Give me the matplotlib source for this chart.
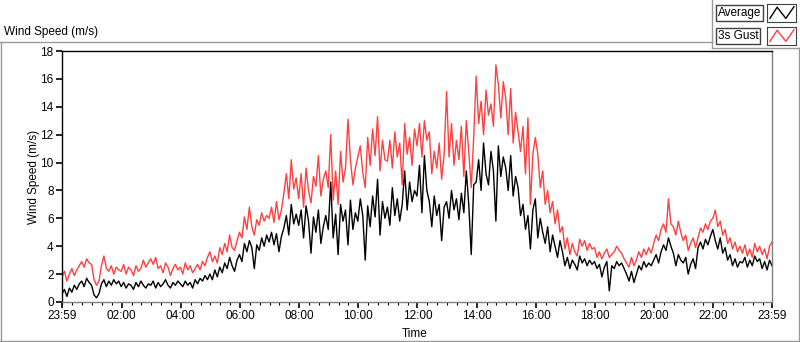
import matplotlib.pyplot as plt
from matplotlib.lines import Line2D
import numpy as np

# -------- Data (5-minute samples, 23:59 -> 23:59)
avg_speed = [
    0.6, 0.9, 0.4, 1.0, 0.7, 1.2, 0.9, 1.3, 1.5, 1.1, 1.7, 1.4,
    1.2, 0.5, 0.3, 0.6, 1.3, 1.6, 1.1, 1.5, 1.2, 1.6, 1.3, 1.5,
    1.1, 1.4, 1.0, 1.3, 1.2, 0.9, 1.4, 1.1, 1.5, 1.2, 1.0, 1.3,
    1.2, 1.5, 1.0, 1.4, 1.1, 1.3, 1.6, 1.2, 1.0, 1.4, 1.2, 1.5,
    1.3, 1.1, 1.5, 1.2, 1.4, 1.0, 1.6, 1.3, 1.7, 1.5, 1.9, 1.6,
    2.0, 1.6, 2.3, 1.8, 2.5, 2.1, 2.8, 2.4, 3.2, 2.6, 2.2, 3.0,
    3.4, 2.9, 4.2, 3.6, 4.4, 3.9, 2.4, 4.1, 3.7, 4.6, 4.0, 4.8,
    4.3, 5.0, 4.1, 4.9, 3.6, 4.7, 5.3, 6.2, 4.8, 7.0, 5.6, 6.3,
    5.5, 6.6, 4.6, 6.9, 5.8, 3.5, 6.1, 5.0, 6.6, 4.2, 5.4, 6.2,
    5.2, 8.6, 4.6, 6.3, 3.4, 7.0, 5.8, 6.6, 4.1, 7.3, 5.2, 6.4,
    5.8, 7.4, 6.2, 3.0, 6.9, 5.4, 7.6, 6.1, 8.8, 4.8, 7.2, 6.0,
    6.8, 5.5, 8.2, 6.2, 7.4, 5.8, 7.0, 9.4, 6.6, 8.6, 7.2, 8.0,
    7.6, 9.8, 6.4, 10.5, 8.0, 7.2, 5.4, 7.6, 6.2, 7.0, 4.4, 6.8,
    7.2, 6.0, 8.0, 6.6, 7.4, 5.9, 7.8, 6.4, 9.4, 7.0, 3.4, 8.4,
    8.6, 10.2, 8.0, 11.4, 9.2, 8.4, 10.8, 9.4, 5.8, 11.2, 9.0, 10.4,
    9.6, 8.0, 10.5, 7.6, 9.0, 8.2, 6.2, 7.0, 5.2, 6.2, 3.8, 6.6,
    7.4, 4.6, 6.0, 5.0, 4.2, 5.4, 3.6, 4.8, 4.0, 3.2, 4.4, 3.6,
    2.6, 3.2, 2.4, 3.0, 2.7, 2.3, 3.3, 2.8, 3.1, 2.6, 3.0, 2.7,
    2.9, 2.4, 2.7, 1.8, 2.5, 2.9, 0.8, 2.6, 2.4, 2.9, 2.6, 2.8,
    2.4, 2.0, 1.5, 2.2, 1.4, 2.0, 2.6, 2.3, 2.9, 2.5, 2.8, 2.6,
    3.0, 3.4, 2.8, 3.6, 4.1, 3.7, 4.6, 4.0, 3.5, 2.6, 3.4, 3.0,
    2.8, 3.2, 2.0, 2.7, 3.1, 2.4, 3.9, 4.3, 3.8, 4.5, 4.1, 4.7,
    5.2, 4.4, 3.8, 4.6, 3.5, 3.9, 3.0, 3.4, 2.6, 3.1, 2.5, 2.9,
    2.8, 3.2, 2.5, 3.0, 2.6, 3.3, 2.9, 3.1, 2.4, 2.9, 2.3, 3.0,
    2.6,
]
gust_speed = [
    1.8, 2.2, 1.5, 2.0, 2.4, 1.9, 2.3, 2.6, 2.9, 2.5, 3.1, 2.8,
    2.7, 1.6, 1.2, 1.5, 2.6, 3.3, 2.4, 2.2, 2.6, 2.0, 2.5, 2.3,
    2.2, 2.7, 2.0, 2.5, 2.3, 1.9, 2.6, 2.2, 2.4, 3.0, 2.5, 2.8,
    3.1, 2.7, 3.2, 2.4, 2.6, 2.1, 2.8, 2.5, 1.9, 2.4, 2.7, 2.3,
    2.5, 2.0, 2.8, 2.3, 2.6, 2.1, 2.4, 2.7, 2.3, 2.9, 2.6, 3.2,
    3.6, 2.9, 3.3, 2.8, 3.9, 3.4, 4.2, 3.6, 4.8, 3.9, 3.7, 4.4,
    5.0, 4.6, 6.1, 5.2, 6.8, 5.4, 4.8, 5.9, 5.5, 6.4, 5.8, 6.2,
    6.0, 6.8, 5.7, 7.2, 5.9, 6.6, 7.8, 9.2, 7.4, 10.2, 8.1, 8.9,
    7.4, 9.2, 6.8, 9.6, 8.0, 7.1, 9.0, 8.3, 10.5, 7.6, 8.8, 9.4,
    8.2, 12.0, 7.3, 9.4, 7.0, 10.8, 8.6, 9.6, 13.1, 10.2, 8.4, 9.6,
    10.4, 11.2, 9.3, 8.2, 11.8, 9.8, 12.4, 10.5, 13.3, 9.4, 11.6, 10.2,
    10.1, 11.6, 9.6, 12.2, 10.4, 11.4, 8.4, 12.8, 10.6, 11.8, 9.8, 12.4,
    11.2, 12.8, 10.4, 13.0, 11.6, 12.2, 9.2, 10.8, 9.6, 11.4, 8.8, 10.6,
    15.1, 10.4, 12.8, 9.8, 11.6, 10.2, 12.6, 9.0, 13.0, 10.8, 8.2, 11.8,
    16.2, 12.8, 14.4, 12.0, 15.2, 13.4, 14.2, 12.6, 17.0, 15.6, 13.2, 15.8,
    14.6, 12.0, 15.3, 11.4, 13.6, 12.2, 10.8, 12.6, 9.2, 13.2, 7.0, 10.6,
    11.8, 10.6, 8.2, 9.4, 7.0, 8.0, 6.4, 7.2, 5.6, 6.6, 5.0, 5.4,
    3.8, 4.6, 3.4, 4.2, 3.6, 3.3, 4.5, 4.0, 4.4, 3.7, 4.2, 3.8,
    3.9, 3.2, 3.6, 3.1, 3.5, 3.8, 3.2, 3.4, 3.6, 4.0, 3.7, 3.5,
    3.1, 2.8, 2.5, 3.2, 2.6, 3.0, 3.6, 3.2, 3.8, 3.4, 3.9, 3.5,
    4.2, 4.8, 4.4, 5.2, 5.6, 5.0, 7.4, 5.6, 5.4, 4.8, 5.8, 5.0,
    4.4, 4.8, 3.7, 4.2, 4.6, 3.9, 4.6, 5.3, 5.0, 5.6, 5.2, 5.8,
    6.0, 6.6, 5.4, 5.8, 4.8, 5.2, 4.2, 4.6, 3.8, 4.3, 3.6, 4.0,
    3.5, 4.1, 3.3, 3.8, 3.2, 4.2, 3.6, 4.0, 3.4, 3.8, 3.1, 4.0,
    4.3,
]
minutes = np.arange(len(avg_speed)) * 5  # minutes since 23:59

tick_minutes = [0, 121, 241, 361, 481, 601, 721, 841, 961, 1081, 1201, 1321, 1440]
tick_labels = ['23:59', '02:00', '04:00', '06:00', '08:00', '10:00', '12:00',
               '14:00', '16:00', '18:00', '20:00', '22:00', '23:59']
y_ticks = [0, 2, 4, 6, 8, 10, 12, 14, 16, 18]

plt.rcParams['font.family'] = ['Liberation Sans', 'DejaVu Sans']
W, H = 800, 342

fig = plt.figure(figsize=(W / 100, H / 100), dpi=100)
ax = fig.add_axes([62 / W, 40 / H, 710 / W, 251 / H])

# -------- Series
ax.plot(minutes, gust_speed, color='#ff4040', lw=1.0)
ax.plot(minutes, avg_speed, color='black', lw=1.0)

ax.set_xlim(0, 1440)
ax.set_ylim(0, 18)
ax.set_yticks(y_ticks)
ax.set_xticks(tick_minutes)
ax.set_xticklabels(tick_labels)
ax.set_xticks(np.arange(1, 1440, 20), minor=True)
ax.tick_params(axis='both', which='major', length=4, width=1.2, labelsize=8.5,
               direction='out', pad=2)
ax.tick_params(axis='x', which='minor', length=2.5, width=0.8)

for side in ['top', 'left']:
    ax.spines[side].set_color('black')
for side in ['bottom', 'right']:
    ax.spines[side].set_color('#808080')
for s in ax.spines.values():
    s.set_linewidth(1.0)

ax.set_ylabel('Wind Speed (m/s)', fontsize=8.5, labelpad=0)
ax.set_xlabel('Time', fontsize=8.5)
ax.xaxis.set_label_coords((415 - 62) / 710, -(328 - 302) / 251)

# -------- Panel frame and title
fig.text(4 / W, 1 - 32 / H, 'Wind Speed (m/s)', fontsize=8.5, va='center', ha='left')
frame_col = '#999999'
frame = [
    ([0, 712], [42, 42]),
    ([0.5, 0.5], [42, 341]),
    ([0, 799], [341, 341]),
    ([799, 799], [48, 341]),
    ([712, 799], [48, 48]),
    ([712, 712], [0, 48]),
]
for xs, ys in frame:
    fig.add_artist(Line2D([x / W for x in xs], [1 - y / H for y in ys],
                          color=frame_col, lw=1.0))

# -------- Legend (label boxes + line icons)
for row, (name, col) in enumerate([('Average', 'black'), ('3s Gust', '#ff4040')]):
    y_top = 4 + row * 23
    fig.text(718 / W, 1 - (y_top + 9) / H, name, fontsize=8.5, va='center', ha='left',
             bbox=dict(boxstyle='square,pad=0.15', facecolor='white', edgecolor='#404040', lw=1))
    icon = fig.add_axes([767 / W, 1 - (y_top + 18) / H, 29 / W, 18 / H])
    icon.plot([0.1, 0.35, 0.65, 0.93], [0.2, 0.82, 0.2, 0.85], color=col, lw=1)
    icon.set_xlim(0, 1)
    icon.set_ylim(0, 1)
    icon.set_xticks([])
    icon.set_yticks([])
    for s in icon.spines.values():
        s.set_color('#404040')

fig.savefig('out.png', dpi=100)
